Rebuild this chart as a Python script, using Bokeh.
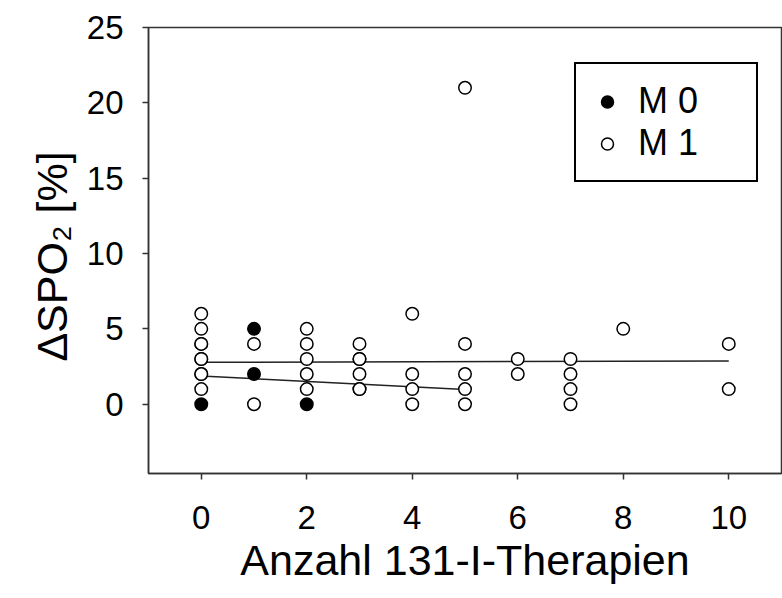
from bokeh.plotting import figure
from bokeh.models import Range1d, FixedTicker, Legend, LegendItem, ColumnDataSource
from bokeh.embed import file_html
from bokeh.resources import INLINE

# ---- data ----
m0_x = [0, 1, 1, 2]
m0_y = [0, 5, 2, 0]

m1_x = [0, 0, 0, 0, 0, 0, 0, 0, 0,
        1, 1,
        2, 2, 2, 2, 2,
        3, 3, 3, 3, 3, 3,
        4, 4, 4, 4,
        5, 5, 5, 5, 5,
        6, 6,
        7, 7, 7, 7,
        8,
        10, 10]
m1_y = [6, 5, 4, 4, 3, 3, 2, 2, 1,
        4, 0,
        5, 4, 3, 2, 1,
        4, 3, 3, 2, 1, 1,
        6, 2, 1, 0,
        21, 4, 2, 1, 0,
        3, 2,
        3, 2, 1, 0,
        5,
        4, 1]

fit1_x = [0, 10]
fit1_y = [2.78, 2.87]
fit2_x = [0, 5]
fit2_y = [1.87, 0.97]

x_ticks = [0, 2, 4, 6, 8, 10]
y_ticks = [0, 5, 10, 15, 20, 25]

FONT = "Liberation Sans"

p = figure(width=782, height=598,
           x_range=Range1d(-1, 11), y_range=Range1d(-4.6, 25),
           output_backend="svg", toolbar_location=None,
           min_border_left=148, min_border_right=1,
           min_border_top=27, min_border_bottom=125)

p.background_fill_color = "white"
p.border_fill_color = "white"
p.outline_line_color = "#333333"
p.outline_line_width = 1.5
p.xgrid.visible = False
p.ygrid.visible = False

for ax in (p.xaxis[0], p.yaxis[0]):
    ax.axis_line_color = "#333333"
    ax.axis_line_width = 1.5
    ax.major_tick_line_color = "#333333"
    ax.major_tick_line_width = 1.5
    ax.major_tick_out = 6
    ax.major_tick_in = 0
    ax.minor_tick_line_color = None
    ax.major_label_text_font = FONT
    ax.major_label_text_font_size = "33px"
    ax.major_label_text_color = "black"
    ax.axis_label_text_font = FONT
    ax.axis_label_text_font_size = "43px"
    ax.axis_label_text_font_style = "normal"
    ax.axis_label_text_color = "black"

p.xaxis.ticker = FixedTicker(ticks=x_ticks)
p.yaxis.ticker = FixedTicker(ticks=y_ticks)
p.xaxis.axis_label = "Anzahl 131-I-Therapien"
p.yaxis.axis_label = "ΔSPO₂  [%]"
p.xaxis.major_label_standoff = 26
p.yaxis.major_label_standoff = 19
p.xaxis.axis_label_standoff = 4
p.yaxis.axis_label_standoff = 8

p.line(fit1_x, fit1_y, line_color="#222222", line_width=1.5)
p.line(fit2_x, fit2_y, line_color="#222222", line_width=1.5)

src1 = ColumnDataSource(dict(x=m1_x, y=m1_y))
src0 = ColumnDataSource(dict(x=m0_x, y=m0_y))
r1 = p.scatter("x", "y", source=src1, size=12.5, fill_color="white",
               line_color="black", line_width=1.5)
r0 = p.scatter("x", "y", source=src0, size=12.5, fill_color="black",
               line_color="black", line_width=1.5)

legend = Legend(items=[LegendItem(label="M 0", renderers=[r0]),
                       LegendItem(label="M 1", renderers=[r1])],
                location=(426, 291), margin=0, padding=16, spacing=0,
                glyph_width=30, glyph_height=41, label_height=41,
                label_standoff=16, label_width=102,
                label_text_font=FONT, label_text_font_size="36px",
                label_text_color="black",
                border_line_color="black", border_line_width=2,
                border_line_alpha=1.0,
                background_fill_color="white", background_fill_alpha=1.0)
p.add_layout(legend)

open("out.html", "w").write(file_html(p, INLINE))
